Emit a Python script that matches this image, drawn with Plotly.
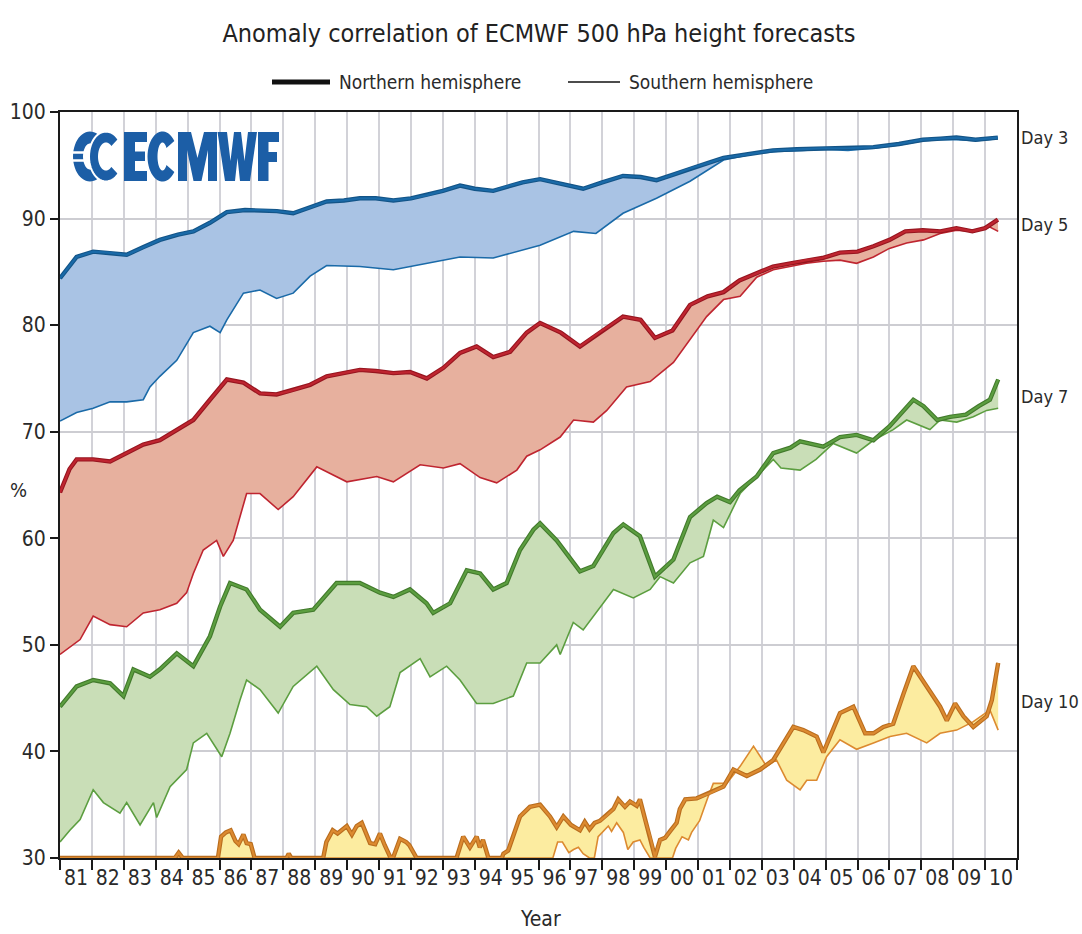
import math
import plotly.graph_objects as go

# ---------------- data ----------------
YEAR_LABELS = ["81","82","83","84","85","86","87","88","89","90","91","92","93","94","95",
               "96","97","98","99","00","01","02","03","04","05","06","07","08","09","10"]
FIRST_YEAR = 1981

# Day 3
D3_NH_T = [1981.0,1981.25,1981.52,1982.04,1982.5,1983.09,1983.6,1984.13,1984.7,1985.18,1985.7,1986.23,1986.8,
           1987.27,1987.8,1988.31,1988.8,1989.36,1989.9,1990.4,1990.9,1991.45,1992.0,1992.5,1993.0,1993.54,1994.0,
           1994.58,1995.0,1995.5,1996.05,1996.5,1997.4,1998.0,1998.65,1999.2,1999.7,2000.2,2000.75,2001.3,2001.8,
           2002.5,2003.35,2004.1,2004.9,2005.7,2006.5,2007.3,2008.05,2008.6,2009.1,2009.7,2010.4]
D3_NH_V = [84.4,85.4,86.4,86.9,86.8,86.6,87.3,88.0,88.5,88.8,89.6,90.6,90.8,
           90.8,90.7,90.5,91.0,91.6,91.7,91.9,91.9,91.7,91.9,92.2,92.6,93.1,92.8,
           92.6,93.0,93.4,93.7,93.4,92.8,93.4,94.0,93.9,93.6,94.1,94.7,95.2,95.7,
           96.0,96.4,96.5,96.6,96.6,96.7,97.0,97.4,97.5,97.6,97.4,97.6]
D3_SH_T = [1981.0,1981.52,1982.04,1982.57,1983.09,1983.61,1983.82,1984.13,1984.66,1985.18,1985.7,1986.02,1986.23,
           1986.75,1987.27,1987.79,1988.31,1988.84,1989.36,1990.4,1991.45,1992.5,1993.54,1994.58,1995.63,1996.05,
           1997.1,1997.8,1998.65,1999.7,2000.75,2001.8,2002.8,2003.5,2004.3,2004.9,2005.7,2006.5,2007.3,2008.05,
           2008.6,2009.1,2009.7,2010.4]
D3_SH_V = [71.0,71.8,72.2,72.8,72.8,73.0,74.2,75.2,76.7,79.3,79.9,79.3,80.5,
           83.0,83.3,82.5,83.0,84.6,85.6,85.5,85.2,85.8,86.4,86.3,87.2,87.5,
           88.8,88.6,90.5,91.9,93.5,95.5,96.1,96.3,96.4,96.5,96.4,96.6,96.9,97.3,
           97.4,97.4,97.3,97.5]

# Day 5
D5_NH_T = [1981.0,1981.3,1981.52,1982.04,1982.57,1983.09,1983.61,1984.13,1984.66,1985.18,1985.7,1986.23,1986.75,
           1987.27,1987.79,1988.31,1988.84,1989.36,1990.4,1990.9,1991.45,1991.97,1992.5,1993.02,1993.54,1994.06,
           1994.58,1995.11,1995.63,1996.05,1996.7,1997.3,1997.9,1998.65,1999.2,1999.65,2000.2,2000.75,2001.3,
           2001.8,2002.3,2002.85,2003.35,2003.9,2004.4,2004.9,2005.45,2006.0,2006.5,2007.0,2007.5,2008.05,2008.6,
           2009.1,2009.6,2010.0,2010.4]
D5_NH_V = [64.3,66.5,67.4,67.4,67.2,68.0,68.8,69.2,70.2,71.1,73.0,74.9,74.6,
           73.6,73.5,73.9,74.4,75.2,75.8,75.7,75.5,75.6,75.0,76.0,77.4,78.0,
           77.0,77.5,79.3,80.2,79.3,78.0,79.3,80.8,80.5,78.8,79.5,81.9,82.7,
           83.1,84.2,84.9,85.5,85.8,86.1,86.3,86.8,86.9,87.4,88.0,88.8,88.9,88.8,
           89.1,88.8,89.1,89.9]
D5_SH_T = [1981.0,1981.31,1981.63,1982.04,1982.57,1983.09,1983.61,1984.13,1984.66,1984.97,1985.18,1985.49,1985.91,
           1986.12,1986.43,1986.85,1987.27,1987.84,1988.31,1989.05,1989.99,1990.93,1991.45,1992.29,1993.02,1993.54,
           1994.17,1994.69,1995.32,1995.63,1996.05,1996.68,1997.1,1997.72,1998.14,1998.76,1999.5,2000.23,2000.75,
           2001.27,2001.8,2002.32,2002.84,2003.36,2004.4,2004.93,2005.45,2005.97,2006.5,2007.0,2007.54,2008.07,
           2008.59,2009.11,2009.63,2010.15,2010.41]
D5_SH_V = [49.1,49.8,50.5,52.7,51.9,51.7,53.0,53.3,53.9,54.9,56.7,58.9,59.8,
           58.3,59.8,64.2,64.2,62.7,63.9,66.7,65.3,65.8,65.3,66.9,66.6,67.0,
           65.7,65.2,66.4,67.7,68.3,69.5,71.1,70.9,72.0,74.2,74.7,76.5,78.6,
           80.8,82.4,82.7,84.5,85.2,85.8,86.0,86.1,85.8,86.4,87.2,87.7,88.0,
           88.6,88.9,88.8,89.2,88.8]

# Day 7
D7_NH_T = [1981.0,1981.52,1982.04,1982.57,1982.99,1983.3,1983.82,1984.13,1984.66,1985.18,1985.7,1986.02,1986.33,
           1986.85,1987.27,1987.9,1988.31,1988.94,1989.67,1990.4,1991.03,1991.45,1991.97,1992.49,1992.7,1993.23,
           1993.75,1994.17,1994.58,1995.0,1995.42,1995.84,1996.05,1996.57,1997.3,1997.72,1998.35,1998.66,1999.18,
           1999.65,2000.23,2000.75,2001.27,2001.6,2002.0,2002.3,2002.84,2003.36,2003.9,2004.2,2004.93,2005.45,
           2005.97,2006.5,2007.0,2007.75,2008.07,2008.5,2008.9,2009.4,2009.8,2010.15,2010.41]
D7_NH_V = [44.2,46.1,46.7,46.4,45.2,47.7,47.0,47.7,49.2,48.0,50.8,53.6,55.8,
           55.2,53.3,51.7,53.0,53.3,55.8,55.8,54.9,54.5,55.2,53.9,53.0,53.9,
           57.0,56.7,55.2,55.8,58.9,60.8,61.4,59.8,56.9,57.4,60.5,61.3,60.2,
           56.4,58.0,62.0,63.3,63.9,63.4,64.5,65.8,68.0,68.5,69.1,68.6,69.5,
           69.7,69.2,70.5,73.0,72.4,71.1,71.4,71.6,72.4,73.0,74.9]
D7_SH_T = [1981.0,1981.31,1981.63,1982.04,1982.36,1982.88,1983.09,1983.51,1983.93,1984.03,1984.45,1984.97,1985.18,
           1985.6,1986.07,1986.33,1986.64,1986.85,1987.27,1987.84,1988.31,1989.05,1989.57,1990.09,1990.61,1990.93,
           1991.34,1991.66,1992.29,1992.6,1993.12,1993.54,1994.06,1994.58,1995.21,1995.63,1996.05,1996.57,1996.68,
           1997.09,1997.4,1997.72,1998.35,1998.97,1999.5,1999.81,2000.23,2000.75,2001.17,2001.48,2001.8,2002.32,
           2002.84,2003.36,2003.6,2004.2,2004.7,2005.24,2005.97,2006.5,2007.12,2007.54,2008.27,2008.59,2009.11,
           2009.63,2010.05,2010.41]
D7_SH_V = [31.5,32.6,33.6,36.4,35.2,34.2,35.2,33.1,35.2,33.8,36.7,38.3,40.8,
           41.7,39.5,41.7,44.8,46.7,45.8,43.6,46.1,48.0,45.8,44.4,44.2,43.3,
           44.2,47.4,48.7,47.0,48.0,46.7,44.5,44.5,45.2,48.3,48.3,50.0,49.1,
           52.1,51.4,52.7,55.2,54.4,55.2,56.4,55.8,57.7,58.3,61.7,61.0,64.2,
           65.8,67.4,66.6,66.4,67.4,68.9,68.0,69.2,70.2,71.1,70.2,71.1,70.9,
           71.4,72.0,72.2]

# Day 10 (values at 30 run along the bottom axis)
D10_NH_T = [1981.0,1984.6,1984.72,1984.85,1985.95,1986.05,1986.2,1986.35,1986.5,1986.6,1986.75,1986.85,1986.98,
            1987.1,1988.1,1988.17,1988.25,1989.25,1989.35,1989.55,1989.7,1989.99,1990.15,1990.3,1990.46,1990.72,
            1990.88,1991.03,1991.18,1991.35,1991.45,1991.66,1991.85,1991.95,1992.18,1993.43,1993.64,1993.85,
            1994.06,1994.16,1994.26,1994.43,1994.85,1994.9,1995.05,1995.2,1995.42,1995.73,1996.05,1996.36,1996.57,
            1996.78,1997.02,1997.3,1997.45,1997.6,1997.76,1997.93,1998.14,1998.35,1998.5,1998.71,1998.87,1999.08,
            1999.18,1999.34,1999.5,1999.65,1999.81,1999.97,2000.12,2000.33,2000.43,2000.6,2000.96,2001.38,2001.8,
            2002.11,2002.53,2002.95,2003.36,2003.99,2004.3,2004.72,2004.93,2005.45,2005.87,2006.24,2006.5,2006.81,
            2007.12,2007.44,2007.75,2008.17,2008.59,2008.8,2009.06,2009.32,2009.63,2010.05,2010.21,2010.41]
D10_NH_V = [30,30,30.5,30,30,32.0,32.4,32.6,31.6,31.3,32.2,31.4,31.3,
            30,30,30.4,30,30,31.5,32.6,32.3,33.0,32.2,33.0,33.3,31.4,
            31.3,32.3,31.2,30.1,30.1,31.8,31.5,31.2,30,30,32.0,31.0,
            32.0,31.0,31.7,30,30,30.4,30.7,32.0,33.9,34.8,35.0,33.9,32.9,
            33.9,33.1,32.6,33.4,32.7,33.3,33.5,34.0,34.6,35.5,34.8,35.3,34.9,
            35.5,33.6,32.0,30.1,31.7,31.9,32.5,33.3,34.6,35.5,35.6,36.1,36.7,
            38.3,37.7,38.3,39.2,42.3,42.0,41.4,39.9,43.6,44.2,41.7,41.7,42.3,
            42.6,45.4,48.0,46.1,44.2,42.9,44.5,43.3,42.3,43.3,44.8,48.3]
D10_SH_T = [1981.0,1996.45,1996.6,1996.75,1996.95,1997.1,1997.25,1997.4,1997.6,1997.75,1997.87,1998.03,1998.19,
            1998.29,1998.45,1998.66,1998.8,1998.97,1999.18,1999.3,1999.5,2000.2,2000.3,2000.5,2000.7,2000.8,2001.05,
            2001.3,2001.48,2001.9,2002.32,2002.74,2003.15,2003.46,2003.78,2004.2,2004.41,2004.72,2005.03,2005.45,
            2005.97,2006.5,2007.02,2007.54,2008.17,2008.59,2009.11,2009.63,2010.15,2010.41]
D10_SH_V = [30,30,31.5,31.5,30.5,30.8,31.0,30.4,30,30,32.0,32.5,33.0,
            32.5,33.3,32.4,30.8,31.5,31.7,31.0,30,30,30.9,32.0,31.7,32.4,33.5,
            35.6,37.0,37.0,38.6,40.5,38.6,39.2,37.3,36.4,37.3,37.3,39.5,41.1,
            40.2,40.8,41.4,41.7,40.8,41.7,42.0,42.8,43.9,42.0]

SERIES = [
    ("Day 3", D3_NH_T, D3_NH_V, D3_SH_T, D3_SH_V),
    ("Day 5", D5_NH_T, D5_NH_V, D5_SH_T, D5_SH_V),
    ("Day 7", D7_NH_T, D7_NH_V, D7_SH_T, D7_SH_V),
    ("Day 10", D10_NH_T, D10_NH_V, D10_SH_T, D10_SH_V),
]
DAY_LABEL_Y = [97.6, 89.4, 73.3, 44.7]
LEGEND_NAMES = ["Northern hemisphere", "Southern hemisphere"]

# ---------------- styling ----------------
LINE_COLORS = ["#1a6aa8", "#bf2530", "#5c9e40", "#dc8a30"]
EDGE_COLORS = ["#135487", "#96151f", "#427a2c", "#b96d1e"]
FILL_COLORS = ["#a9c3e4", "#e7b09e", "#c9deb7", "#fceca0"]
FONT = "DejaVu Sans Condensed, Liberation Sans Narrow, Arial Narrow, sans-serif"
TXT = "#2a2a2a"

# Figure fills the whole 1082x934 page (body margin removed by post_script below);
# plot area on page pixels x 60..1017, y 112..858 as in the reference.
W, H = 1082, 934
PL, PR, PT, PB = 60, 1017, 112, 858
ML, MR, MT, MB = PL, W - PR, PT, H - PB

fig = go.Figure()
for i, (name, nt, nv, st, sv) in enumerate(SERIES):
    fig.add_trace(go.Scatter(x=st, y=sv, mode="lines", showlegend=False, hoverinfo="skip",
                             line=dict(color=LINE_COLORS[i], width=1.6)))
    fig.add_trace(go.Scatter(x=nt, y=nv, mode="lines", showlegend=False, hoverinfo="skip",
                             fill="tonexty", fillcolor=FILL_COLORS[i],
                             line=dict(color=EDGE_COLORS[i], width=4.4)))
    fig.add_trace(go.Scatter(x=nt, y=nv, mode="lines", showlegend=False, hoverinfo="skip",
                             line=dict(color=LINE_COLORS[i], width=2.2)))

year_mid = [FIRST_YEAR + k + 0.5 for k in range(len(YEAR_LABELS))]
year_edges = [FIRST_YEAR + k for k in range(len(YEAR_LABELS) + 1)]

fig.update_layout(
    width=W, height=H, showlegend=False,
    margin=dict(l=ML, r=MR, t=MT, b=MB, autoexpand=False),
    paper_bgcolor="white", plot_bgcolor="white",
    font=dict(family=FONT, color=TXT),
    title=dict(text="Anomaly correlation of ECMWF 500 hPa height forecasts",
               x=539 / W, xanchor="center", y=1 - 33 / H, yanchor="middle",
               font=dict(size=25, family=FONT, color="#222222")),
    xaxis=dict(range=[FIRST_YEAR, FIRST_YEAR + len(YEAR_LABELS)], automargin=False,
               tickmode="array", tickvals=year_mid, ticktext=YEAR_LABELS, ticks="",
               tickfont=dict(size=21, family=FONT, color=TXT),
               showgrid=False, zeroline=False,
               showline=True, linecolor="#1a1a1a", linewidth=2, mirror=True,
               minor=dict(tickmode="array", tickvals=year_edges, ticks="outside", ticklen=10,
                          tickwidth=2, tickcolor="#1a1a1a",
                          showgrid=True, gridcolor="#d2d2d8", gridwidth=1.5)),
    yaxis=dict(range=[30, 100], automargin=False, tickmode="linear", tick0=30, dtick=10,
               ticks="outside", ticklen=8, tickwidth=2, tickcolor="#1a1a1a",
               tickfont=dict(size=21, family=FONT, color=TXT),
               showgrid=True, gridcolor="#cdcdd2", gridwidth=2, zeroline=False,
               showline=True, linecolor="#1a1a1a", linewidth=2, mirror=True),
)


def px(xp):
    return (xp - PL) / (PR - PL)


def py(yp):
    return (PB - yp) / (PB - PT)


# Day labels at the right
for (name, *_), yv in zip(SERIES, DAY_LABEL_Y):
    fig.add_annotation(x=1, xref="paper", xshift=2, y=yv, yref="y", text=name, showarrow=False,
                       xanchor="left", yanchor="middle",
                       font=dict(size=18, family=FONT, color=TXT))

# axis titles
fig.add_annotation(x=px(18), xref="paper", xanchor="center", y=py(490), yref="paper",
                   text="%", showarrow=False, font=dict(size=20, family=FONT, color=TXT))
fig.add_annotation(x=px(540), xref="paper", xanchor="center", y=py(919), yref="paper",
                   yanchor="middle", text="Year", showarrow=False,
                   font=dict(size=21, family=FONT, color=TXT))

# legend drawn by hand (long line samples as in the reference)
for (x0, x1, wdt, tx), label in zip([(272, 330, 5, 337), (568, 620, 1.6, 627)], LEGEND_NAMES):
    fig.add_shape(type="line", xref="paper", yref="paper", x0=px(x0), x1=px(x1), y0=py(82), y1=py(82),
                  line=dict(color="#111111", width=wdt))
    fig.add_annotation(x=px(tx), y=py(82), xref="paper", yref="paper", xanchor="left", yanchor="middle",
                       text=label, showarrow=False, font=dict(size=19, family=FONT, color=TXT))

# ---------------- ECMWF logo (decorative shapes) ----------------
LOGO = "#1c5ea6"


def poly_path(pts):
    return "M " + " L ".join(f"{px(a):.5f},{py(b):.5f}" for a, b in pts) + " Z"


def c_shape(cx, cy, rxo, ryo, rxi, ryi, gap_deg, n=40):
    pts = []
    for k in range(n + 1):
        a = math.radians(gap_deg + (360 - 2 * gap_deg) * k / n)
        pts.append((cx + rxo * math.cos(a), cy - ryo * math.sin(a)))
    for k in range(n, -1, -1):
        a = math.radians(gap_deg + (360 - 2 * gap_deg) * k / n)
        pts.append((cx + rxi * math.cos(a), cy - ryi * math.sin(a)))
    return pts


TOP, BOT = 132, 181
letters = [
    # E
    [(124, TOP), (147, TOP), (147, 142), (135, 142), (135, 151.5), (145, 151.5), (145, 161), (135, 161),
     (135, 171), (147, 171), (147, BOT), (124, BOT)],
    # M
    [(178, BOT), (178, TOP), (191, TOP), (197.5, 158), (204, TOP), (217, TOP), (217, BOT), (208, BOT),
     (208, 150), (201.5, BOT), (193.5, BOT), (187, 150), (187, BOT)],
    # W
    [(217.5, TOP), (227, TOP), (230.5, 161), (234, TOP), (241, TOP), (244.5, 161), (248, TOP), (257, TOP),
     (250, BOT), (240, BOT), (237.5, 158), (235, BOT), (225, BOT)],
    # F
    [(258, TOP), (279, TOP), (279, 142), (268.5, 142), (268.5, 152), (277, 152), (277, 162), (268.5, 162),
     (268.5, BOT), (258, BOT)],
    # C
    c_shape(162.5, 156.5, 15, 25, 5, 14, 38),
    # symbol: two interlocking C's
    c_shape(90, 156.5, 17, 25, 7, 13, 42),
    c_shape(106, 156.5, 17, 25, 7, 13, 42),
]
for k, pts in enumerate(letters):
    last = k == len(letters) - 1
    fig.add_shape(type="path", xref="paper", yref="paper", path=poly_path(pts),
                  fillcolor=LOGO, line=dict(color="white" if last else LOGO, width=2 if last else 0),
                  layer="above")
for yy in (152.5, 160.5):
    fig.add_shape(type="line", xref="paper", yref="paper", x0=px(70), x1=px(86), y0=py(yy), y1=py(yy),
                  line=dict(color="white", width=2.5), layer="above")

fig.write_html("out.html", config={"displayModeBar": False},
               post_script="document.body.style.margin='0';document.body.style.overflow='hidden';")
